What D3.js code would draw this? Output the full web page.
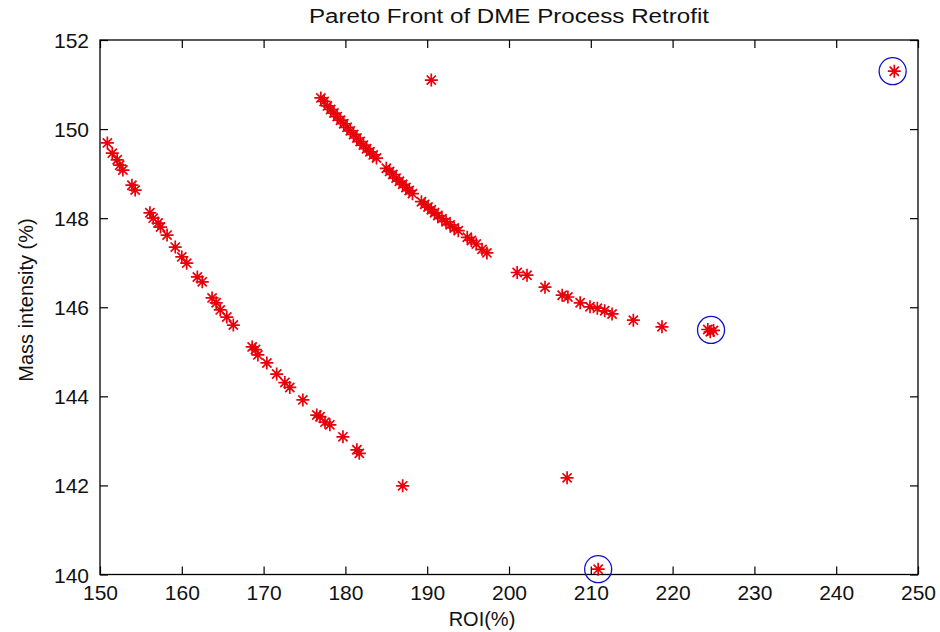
<!DOCTYPE html>
<html>
<head>
<meta charset="utf-8">
<script src="https://cdn.jsdelivr.net/npm/d3@7"></script>
<style>
  html, body { margin: 0; padding: 0; background: #fff; }
  svg { display: block; font-family: Arial, "Liberation Sans", Helvetica, sans-serif; }
</style>
</head>
<body>
<svg id="chart" width="940" height="632"></svg>
<script>
// Pareto front data: ROI (%) vs mass intensity (%)
const frontA_roi = [150.9,151.5,152.1,152.4,152.8,153.9,154.3,156.1,156.5,157.1,157.4,158.2,159.2,160.0,160.6,161.9,162.5,163.7,164.2,164.7,165.5,166.3,168.6,169.0,169.3,170.4,171.6,172.6,173.2,174.8,176.5,176.9,177.5,178.1,179.7,181.4,181.7];
const frontA_mi  = [149.69,149.46,149.31,149.19,149.08,148.74,148.63,148.12,148.0,147.89,147.8,147.62,147.35,147.13,146.99,146.68,146.57,146.21,146.1,145.94,145.78,145.6,145.11,145.05,144.93,144.75,144.5,144.31,144.2,143.92,143.58,143.54,143.42,143.36,143.09,142.8,142.72];

const frontB_roi = [177.0,177.4,177.8,178.2,178.6,179.0,179.4,179.8,180.2,180.6,181.0,181.4,181.8,182.2,182.6,183.0,183.4,183.8,185.0,185.4,185.8,186.2,186.6,187.0,187.4,187.8,188.2,189.3,189.7,190.1,190.5,190.9,191.3,191.8,192.3,192.8,193.3,193.8,194.9,195.4,196.0,196.7,197.3,201.0,202.2,204.4,206.5,207.2,208.7,209.9,210.8,211.7,212.6,215.2,218.7,224.3,224.6,225.0];
const frontB_mi  = [150.7,150.62,150.52,150.44,150.36,150.28,150.2,150.12,150.04,149.96,149.88,149.8,149.72,149.64,149.56,149.49,149.42,149.35,149.12,149.05,148.98,148.9,148.83,148.76,148.69,148.62,148.55,148.37,148.31,148.25,148.19,148.12,148.06,147.99,147.92,147.85,147.78,147.72,147.57,147.5,147.42,147.3,147.22,146.78,146.72,146.45,146.27,146.23,146.1,146.01,145.98,145.92,145.85,145.71,145.56,145.5,145.45,145.48];

const other_roi = [190.5,187.0,207.1,210.9,247.1];
const other_mi  = [151.1,141.99,142.17,140.12,151.3];

// Selected solutions (circled)
const picked_roi = [210.9,224.7,246.9];
const picked_mi  = [140.12,145.49,151.3];

const xTicks = [150,160,170,180,190,200,210,220,230,240,250];
const yTicks = [140,142,144,146,148,150,152];

const titleText = "Pareto Front of DME Process Retrofit";
const xLabel = "ROI(%)";
const yLabel = "Mass intensity (%)";

const svg = d3.select("#chart");
const L = 100, R = 918, T = 40, B = 574.5;

const x = d3.scaleLinear().domain([150, 250]).range([L, R]);
const y = d3.scaleLinear().domain([140, 152]).range([B, T]);

const tickFont = 21;

// axes with inward ticks on all four sides
const gx = svg.append("g").attr("transform", `translate(0,${B})`)
  .call(d3.axisBottom(x).tickValues(xTicks).tickSizeInner(-8).tickSizeOuter(0).tickPadding(10));
const gxt = svg.append("g").attr("transform", `translate(0,${T})`)
  .call(d3.axisTop(x).tickValues(xTicks).tickSizeInner(-8).tickSizeOuter(0).tickFormat(""));
const gy = svg.append("g").attr("transform", `translate(${L},0)`)
  .call(d3.axisLeft(y).tickValues(yTicks).tickSizeInner(-8).tickSizeOuter(0).tickPadding(11));
const gyr = svg.append("g").attr("transform", `translate(${R},0)`)
  .call(d3.axisRight(y).tickValues(yTicks).tickSizeInner(-8).tickSizeOuter(0).tickFormat(""));

[gx, gxt, gy, gyr].forEach(g => {
  g.select(".domain").remove();
  g.selectAll(".tick line").attr("stroke", "#000").attr("stroke-width", 1.2);
  g.selectAll(".tick text").attr("fill", "#111").attr("font-size", tickFont)
    .attr("font-family", "Arial, 'Liberation Sans', sans-serif");
});
gx.selectAll(".tick text").attr("dy", "0.75em").attr("y", 10);
gy.selectAll(".tick text").attr("dy", "0.36em");

// plot box
svg.append("rect").attr("x", L).attr("y", T).attr("width", R - L).attr("height", B - T)
  .attr("fill", "none").attr("stroke", "#000").attr("stroke-width", 1.3);

// '*' markers
function starPath(cx, cy) {
  const a = 6.5, d = 4.6;
  return `M${cx - a},${cy}H${cx + a}M${cx},${cy - a}V${cy + a}` +
         `M${cx - d},${cy - d}L${cx + d},${cy + d}M${cx - d},${cy + d}L${cx + d},${cy - d}`;
}
const pts = [];
frontA_roi.forEach((v, i) => pts.push([v, frontA_mi[i]]));
frontB_roi.forEach((v, i) => pts.push([v, frontB_mi[i]]));
other_roi.forEach((v, i) => pts.push([v, other_mi[i]]));

svg.append("g").selectAll("path").data(pts).join("path")
  .attr("d", d => starPath(x(d[0]), y(d[1])))
  .attr("stroke", "#e8000a").attr("stroke-width", 1.7).attr("fill", "none");

// circled solutions
svg.append("g").selectAll("circle").data(picked_roi.map((v, i) => [v, picked_mi[i]])).join("circle")
  .attr("cx", d => x(d[0])).attr("cy", d => y(d[1])).attr("r", 13.5)
  .attr("fill", "none").attr("stroke", "#1010c8").attr("stroke-width", 1.3);

// title and axis labels
svg.append("text").attr("x", (L + R) / 2).attr("y", 23).attr("text-anchor", "middle")
  .attr("font-size", 20).attr("fill", "#111")
  .attr("textLength", 400).attr("lengthAdjust", "spacingAndGlyphs")
  .text(titleText);

svg.append("text").attr("x", 482).attr("y", 626).attr("text-anchor", "middle")
  .attr("font-size", 20).attr("fill", "#111")
  .text(xLabel);

svg.append("text").attr("transform", `translate(33,${300}) rotate(-90)`)
  .attr("text-anchor", "middle").attr("font-size", 20).attr("fill", "#111")
  .text(yLabel);
</script>
</body>
</html>
